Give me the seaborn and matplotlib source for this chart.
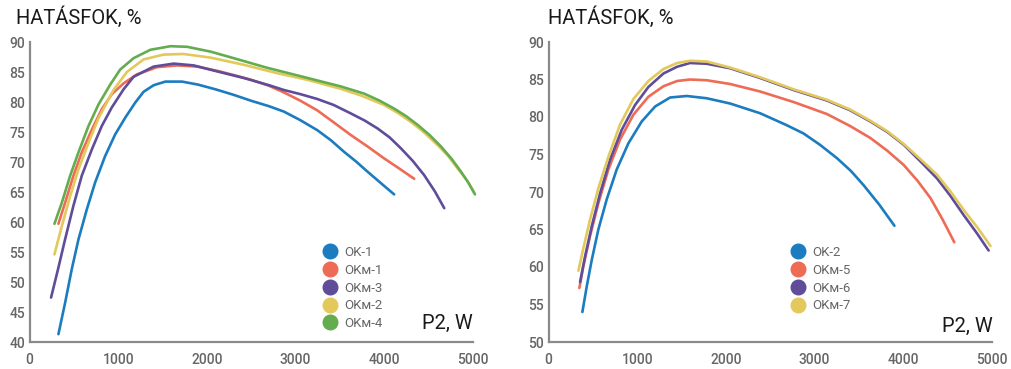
import numpy as np
import pandas as pd
import matplotlib
matplotlib.use("Agg")
import matplotlib.pyplot as plt
import seaborn as sns
from matplotlib.lines import Line2D

sns.set_theme(style="white")
plt.rcParams['font.family'] = ['Roboto', 'DejaVu Sans']

# ---------------- data: left chart ----------------
ok1_x = [326, 401, 476, 552, 646, 740, 853, 966, 1080, 1192, 1286, 1400, 1531, 1720, 1900, 2100,
         2300, 2500, 2700, 2868, 3050, 3245, 3400, 3546, 3680, 3810, 3960, 4111]
ok1_y = [41.3, 46.5, 52.1, 57.1, 62.1, 66.6, 71.0, 74.6, 77.4, 79.9, 81.7, 82.8, 83.4, 83.4, 82.9, 82.1,
         81.2, 80.2, 79.3, 78.4, 77.0, 75.3, 73.6, 71.7, 70.1, 68.4, 66.5, 64.6]

okm1_x = [326, 401, 495, 589, 703, 815, 928, 1060, 1211, 1437, 1663, 1889, 2115, 2300, 2500, 2700,
          2868, 3056, 3245, 3430, 3622, 3810, 3998, 4170, 4337]
okm1_y = [59.7, 63.2, 67.7, 71.6, 75.4, 78.8, 81.3, 83.1, 84.6, 85.8, 86.1, 85.9, 85.2, 84.5, 83.7, 82.7,
          81.6, 80.2, 78.6, 76.6, 74.5, 72.6, 70.6, 68.9, 67.2]

okm3_x = [243, 326, 401, 495, 589, 703, 815, 928, 1060, 1173, 1399, 1625, 1851, 2115, 2416, 2700,
          2868, 3056, 3245, 3430, 3622, 3780, 3923, 4060, 4186, 4320, 4450, 4570, 4676]
okm3_y = [47.4, 52.4, 57.1, 62.7, 67.7, 72.1, 76.0, 79.1, 82.1, 84.2, 85.9, 86.4, 86.1, 85.1, 84.0, 82.8,
          82.0, 81.3, 80.5, 79.5, 78.1, 76.9, 75.6, 74.1, 72.3, 70.2, 67.8, 65.1, 62.3]

okm2_x = [281, 364, 458, 552, 665, 778, 947, 1098, 1286, 1512, 1738, 2040, 2416, 2793, 3132, 3508,
          3734, 3998, 4150, 4299, 4450, 4601, 4720, 4827, 4930, 5015]
okm2_y = [54.6, 59.3, 64.3, 68.8, 73.2, 77.3, 82.0, 85.0, 87.1, 87.9, 88.0, 87.4, 86.2, 84.8, 83.7, 82.2,
          81.1, 79.5, 78.2, 76.7, 74.9, 72.8, 71.0, 68.9, 67.0, 64.9]

okm4_x = [281, 364, 458, 552, 665, 778, 910, 1022, 1173, 1362, 1589, 1776, 2040, 2303, 2680, 3056,
          3508, 3772, 3950, 4111, 4250, 4375, 4510, 4638, 4760, 4864, 4950, 5022]
okm4_y = [59.7, 63.2, 67.7, 71.6, 76.0, 79.6, 82.9, 85.4, 87.3, 88.7, 89.3, 89.2, 88.4, 87.3, 85.7, 84.3,
          82.6, 81.4, 80.2, 78.9, 77.6, 76.2, 74.5, 72.6, 70.5, 68.4, 66.5, 64.6]

# ---------------- data: right chart ----------------
ok2_x = [382, 431, 487, 562, 656, 769, 901, 1051, 1202, 1371, 1559, 1783, 2047, 2386, 2687, 2876,
         3060, 3253, 3410, 3553, 3730, 3900]
ok2_y = [54.0, 57.4, 60.9, 65.0, 69.0, 73.0, 76.5, 79.4, 81.4, 82.6, 82.8, 82.5, 81.8, 80.5, 78.9, 77.8,
         76.3, 74.5, 72.8, 70.9, 68.3, 65.5]

okm5_x = [348, 393, 468, 562, 675, 807, 957, 1126, 1296, 1450, 1596, 1783, 2047, 2386, 2762, 3138,
          3400, 3629, 3820, 4005, 4160, 4306, 4440, 4575]
okm5_y = [57.2, 60.1, 64.1, 68.5, 73.0, 77.0, 80.3, 82.7, 84.1, 84.8, 85.0, 84.9, 84.4, 83.4, 82.0, 80.4,
          78.8, 77.2, 75.5, 73.6, 71.5, 69.2, 66.4, 63.3]

okm6_x = [356, 412, 487, 581, 694, 826, 976, 1126, 1296, 1450, 1596, 1783, 2047, 2386, 2762, 3138,
          3400, 3629, 3820, 4005, 4200, 4381, 4530, 4682, 4830, 4962]
okm6_y = [58.0, 61.4, 65.4, 69.8, 74.3, 78.3, 81.6, 84.0, 85.8, 86.7, 87.2, 87.1, 86.5, 85.2, 83.6, 82.2,
          80.9, 79.4, 78.0, 76.3, 74.0, 71.8, 69.5, 66.9, 64.5, 62.2]

okm7_x = [337, 393, 468, 562, 675, 807, 957, 1126, 1296, 1450, 1596, 1783, 2047, 2386, 2762, 3138,
          3400, 3629, 3820, 4005, 4200, 4381, 4530, 4682, 4840, 4983]
okm7_y = [59.5, 62.5, 66.3, 70.5, 74.7, 79.0, 82.4, 84.8, 86.4, 87.2, 87.5, 87.4, 86.6, 85.3, 83.7, 82.3,
          81.0, 79.5, 78.1, 76.4, 74.3, 72.3, 70.1, 67.6, 65.2, 62.8]

left_names = ["OK-1", "OKм-1", "OKм-3", "OKм-2", "OKм-4"]
right_names = ["OK-2", "OKм-5", "OKм-6", "OKм-7"]
left_series = [(ok1_x, ok1_y), (okm1_x, okm1_y), (okm3_x, okm3_y), (okm2_x, okm2_y), (okm4_x, okm4_y)]
right_series = [(ok2_x, ok2_y), (okm5_x, okm5_y), (okm6_x, okm6_y), (okm7_x, okm7_y)]

x_ticks = [0, 1000, 2000, 3000, 4000, 5000]
left_yticks = [40, 45, 50, 55, 60, 65, 70, 75, 80, 85, 90]
right_yticks = [50, 55, 60, 65, 70, 75, 80, 85, 90]

BLUE, RED, PURPLE, YELLOW, GREEN = "#1b7cc0", "#ee6b55", "#5f4d9a", "#e3c95c", "#63ad4f"
left_colors = [BLUE, RED, PURPLE, YELLOW, GREEN]
right_colors = [BLUE, RED, PURPLE, YELLOW]

W, H = 1012, 369
fig = plt.figure(figsize=(W / 100, H / 100), dpi=100)

TICK_GRAY = "#666666"
AXIS_GRAY = "#8a8a8a"


def make_df(names, series):
    rows = []
    for n, (xs, ys) in zip(names, series):
        for i, (x, y) in enumerate(zip(xs, ys)):
            rows.append({"P2": x, "eff": y, "series": n, "order": i})
    return pd.DataFrame(rows)


def draw(rect, names, series, colors, yticks, legend_anchor, title_x, p2_x, p2_y):
    ax = fig.add_axes(rect)
    df = make_df(names, series)
    sns.lineplot(data=df, x="P2", y="eff", hue="series", hue_order=names,
                 palette=colors, sort=False, estimator=None, units="series",
                 legend=False, linewidth=1.9, ax=ax)
    for l in ax.lines:
        l.set_clip_on(False)
        l.set_solid_capstyle("round")
        l.set_solid_joinstyle("round")
    ax.set_xlim(0, 5000)
    ax.set_ylim(yticks[0], yticks[-1])
    ax.set_xticks(x_ticks)
    ax.set_yticks(yticks)
    ax.set_xlabel("")
    ax.set_ylabel("")
    for s in ["top", "right"]:
        ax.spines[s].set_visible(False)
    for s in ["left", "bottom"]:
        ax.spines[s].set_color(AXIS_GRAY)
        ax.spines[s].set_linewidth(1.6)
    ax.tick_params(axis="y", direction="in", length=11, width=1.3, color=AXIS_GRAY,
                   labelsize=10, labelcolor=TICK_GRAY, pad=3)
    ax.tick_params(axis="x", length=0, labelsize=10, labelcolor=TICK_GRAY, pad=8)
    for lab in ax.get_xticklabels() + ax.get_yticklabels():
        lab.set_fontweight("medium")
    ax.set_facecolor("none")

    handles = [Line2D([], [], marker="o", linestyle="none", markersize=10.5,
                      markerfacecolor=c, markeredgecolor=c) for c in colors]
    ax.legend(handles, names, loc="upper left", bbox_to_anchor=legend_anchor,
              bbox_transform=fig.transFigure, frameon=False, fontsize=9.5,
              labelcolor=TICK_GRAY, handletextpad=0.6, labelspacing=0.36,
              borderpad=0, handlelength=1.0, borderaxespad=0)

    fig.text(title_x / W, 1 - 17 / H, "HATÁSFOK, %", fontsize=14.5, color="#1a1a1a",
             ha="left", va="center")
    fig.text(p2_x / W, 1 - p2_y / H, "P2, W", fontsize=14.5, color="#1a1a1a",
             ha="right", va="center")
    return ax


ax_h = 300 / H
ax_b = (H - 342) / H
draw([29.5 / W, ax_b, 443.5 / W, ax_h], left_names, left_series, left_colors,
     left_yticks, (323 / W, 1 - 246 / H), 16, 473, 323)
draw([548.5 / W, ax_b, 443.5 / W, ax_h], right_names, right_series, right_colors,
     right_yticks, (791 / W, 1 - 246 / H), 548, 993, 326)

fig.savefig("out.png", dpi=100)
